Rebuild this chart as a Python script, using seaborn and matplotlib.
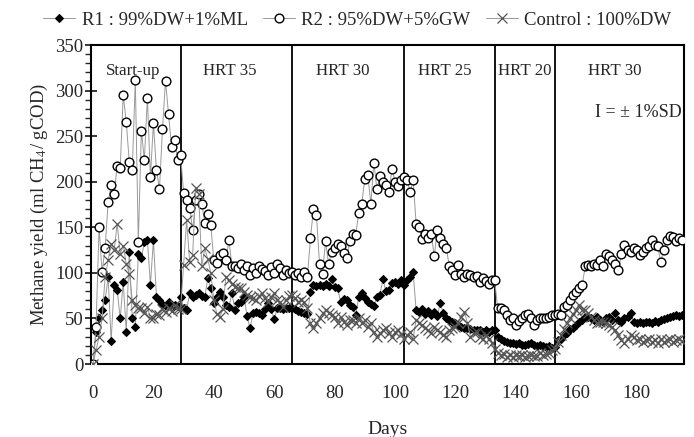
import numpy as np
import pandas as pd
import matplotlib
matplotlib.use("Agg")
import matplotlib.pyplot as plt
import seaborn as sns
from matplotlib.ticker import MultipleLocator

# Daily methane yield (ml CH4 / gCOD), day 0 to day 195
days = np.arange(0, 196)

r1_yield = [
    # start-up, days 0-28
    0, 35, 50, 59, 70, 95, 25, 87, 81, 50, 90, 35, 123, 50, 41, 121, 116, 134, 136, 87,
    136, 74, 70, 66, 64, 68, 62, 65, 64,
    # HRT 35, days 29-65
    74, 62, 59, 78, 73, 76, 78, 75, 73, 94, 83, 67, 74, 79, 74, 65, 63, 78, 59, 67,
    68, 74, 53, 39, 56, 57, 56, 54, 60, 67, 60, 49, 62, 61, 60, 62, 61,
    # HRT 30, days 66-102
    62, 60, 58, 57, 56, 55, 79, 87, 86, 87, 86, 88, 86, 93, 85, 83, 68, 71, 70, 65,
    63, 54, 74, 78, 72, 68, 66, 64, 74, 76, 93, 80, 81, 89, 90, 88, 92,
    # HRT 25, days 103-132
    87, 92, 96, 101, 59, 57, 60, 55, 58, 54, 57, 53, 67, 56, 50, 48, 46, 45, 43, 41,
    40, 39, 38, 37, 37, 37, 35, 37, 35, 37,
    # HRT 20, days 133-152
    37, 30, 28, 25, 24, 23, 23, 22, 23, 21, 21, 22, 23, 21, 20, 21, 20, 19, 20, 18,
    # HRT 30, days 153-195
    19, 26, 28, 32, 34, 38, 40, 43, 46, 48, 52, 52, 50, 48, 52, 48, 46, 51, 52, 48,
    56, 48, 46, 50, 52, 56, 46, 45, 46, 45, 46, 46, 45, 47, 46, 48, 49, 50, 52, 53,
    54, 53, 54,
]

r2_yield = [
    0, 41, 150, 101, 127, 178, 196, 187, 217, 215, 295, 266, 222, 213, 312, 134, 256, 224, 292, 205,
    264, 213, 192, 258, 311, 274, 238, 246, 224,
    229, 188, 180, 171, 147, 180, 187, 176, 155, 165, 152, 114, 111, 120, 122, 114, 136, 107, 107, 105,
    110, 103, 108, 98, 105, 100, 108, 104, 102, 98, 106, 100, 110, 105, 98, 103, 100,
    101, 98, 100, 96, 101, 96, 138, 170, 163, 110, 99, 135, 110, 123, 127, 132, 129, 122, 116, 135,
    143, 142, 166, 176, 203, 207, 176, 221, 192, 206, 200, 196, 189, 214, 200, 195, 202,
    205, 202, 189, 202, 154, 150, 137, 143, 138, 143, 118, 147, 138, 132, 127, 107, 103, 98, 109, 99,
    96, 99, 98, 96, 97, 90, 94, 91, 88, 92,
    92, 61, 61, 59, 54, 48, 50, 43, 47, 50, 54, 55, 50, 43, 48, 50, 50, 50, 52, 54,
    54, 55, 54, 63, 65, 70, 76, 79, 83, 87, 107, 109, 107, 110, 109, 114, 107, 121, 118, 114,
    110, 103, 121, 131, 125, 123, 127, 125, 120, 123, 127, 129, 136, 131, 129, 112, 125, 136, 140, 139,
    135, 138, 136,
]

control_yield = [
    0, 15, 30, 50, 95, 114, 132, 125, 154, 121, 130, 110, 99, 70, 65, 61, 62, 56, 63, 50,
    50, 55, 54, 60, 57, 62, 58, 65, 60,
    60, 109, 158, 112, 120, 193, 186, 107, 127, 115, 100, 70, 55, 52, 60, 96, 92, 88, 85, 83,
    83, 79, 76, 74, 72, 70, 75, 78, 72, 68, 74, 78, 70, 68, 63, 70, 75,
    76, 72, 68, 70, 68, 62, 45, 39, 45, 50, 56, 59, 56, 54, 52, 45, 52, 46, 43, 48,
    48, 45, 50, 45, 48, 41, 45, 35, 30, 34, 37, 39, 34, 30, 35, 37, 33,
    28, 32, 35, 28, 48, 45, 43, 39, 37, 34, 41, 37, 35, 32, 30, 37, 39, 41, 45, 52,
    57, 45, 30, 34, 35, 30, 28, 32, 28, 23,
    17, 12, 10, 11, 8, 10, 8, 10, 9, 10, 8, 9, 10, 9, 9, 12, 10, 11, 12, 15,
    17, 24, 32, 38, 45, 50, 55, 59, 65, 59, 59, 56, 52, 48, 45, 46, 46, 45, 43, 41,
    37, 32, 26, 23, 28, 32, 30, 26, 28, 24, 26, 28, 24, 26, 23, 28, 24, 26, 28, 24,
    26, 28, 25,
]

series_labels = ["R1 : 99%DW+1%ML", "R2 : 95%DW+5%GW", "Control : 100%DW"]

# Day on which each operating phase ends
phase_bounds = [29, 66, 103, 133, 153]
phase_names = ["Start-up", "HRT 35", "HRT 30", "HRT 25", "HRT 20", "HRT 30"]
phase_label_days = [13.2, 45.4, 82.8, 116.6, 143.0, 172.8]

x_ticks = [0, 20, 40, 60, 80, 100, 120, 140, 160, 180]

df = pd.DataFrame({"Day": days, "R1": r1_yield, "R2": r2_yield, "Control": control_yield})

sns.set_style("ticks")
plt.rcParams["font.family"] = ["Liberation Serif", "DejaVu Serif"]
plt.rcParams["mathtext.fontset"] = "stix"

fig = plt.figure(figsize=(6.94, 4.37), dpi=100)
ax = fig.add_axes([0.131, 0.167, 0.855, 0.730])

line_color = "#999999"
sns.lineplot(data=df, x="Day", y="R1", ax=ax, color=line_color, linewidth=0.7,
             marker="D", markersize=4.4, markerfacecolor="black", markeredgecolor="black",
             label=series_labels[0], zorder=3)
sns.lineplot(data=df, x="Day", y="R2", ax=ax, color=line_color, linewidth=0.7,
             marker="o", markersize=6.3, markerfacecolor="white", markeredgecolor="black",
             markeredgewidth=1.0, label=series_labels[1], zorder=4)
sns.lineplot(data=df, x="Day", y="Control", ax=ax, color=line_color, linewidth=0.7,
             marker="x", markersize=7.5, markeredgecolor="#555555", markeredgewidth=0.9,
             label=series_labels[2], zorder=5)

for b in phase_bounds:
    ax.axvline(b, color="black", linewidth=1.3, zorder=2)

for d, name in zip(phase_label_days, phase_names):
    ax.text(d, 322, name, ha="center", va="center", fontsize=12.2)
ax.text(180.5, 276, "I = ± 1%SD", ha="center", va="center", fontsize=13)

ax.set_xlim(-0.7, 195.8)
ax.set_ylim(0, 350)
ax.set_xticks(x_ticks)
ax.yaxis.set_major_locator(MultipleLocator(50))
ax.yaxis.set_minor_locator(MultipleLocator(10))
ax.tick_params(axis="x", length=0, pad=15, labelsize=13.5)
ax.tick_params(axis="y", which="major", direction="inout", length=9, width=1.3,
               labelsize=13.5, pad=1)
ax.tick_params(axis="y", which="minor", direction="out", length=4, width=1.0)

for sp in ax.spines.values():
    sp.set_visible(True)
    sp.set_linewidth(1.5)
    sp.set_color("black")

ax.set_xlabel("Days", fontsize=14, labelpad=14)
ax.set_ylabel("Methane yield (ml CH$_4$/ gCOD)", fontsize=13.5, labelpad=4)

ax.legend(loc="lower center", bbox_to_anchor=(0.449, 1.015), ncol=3, frameon=False,
          fontsize=13.5, handlelength=1.7, handletextpad=0.35, columnspacing=0.8,
          borderaxespad=0.2)

fig.savefig("out.png", dpi=100)
